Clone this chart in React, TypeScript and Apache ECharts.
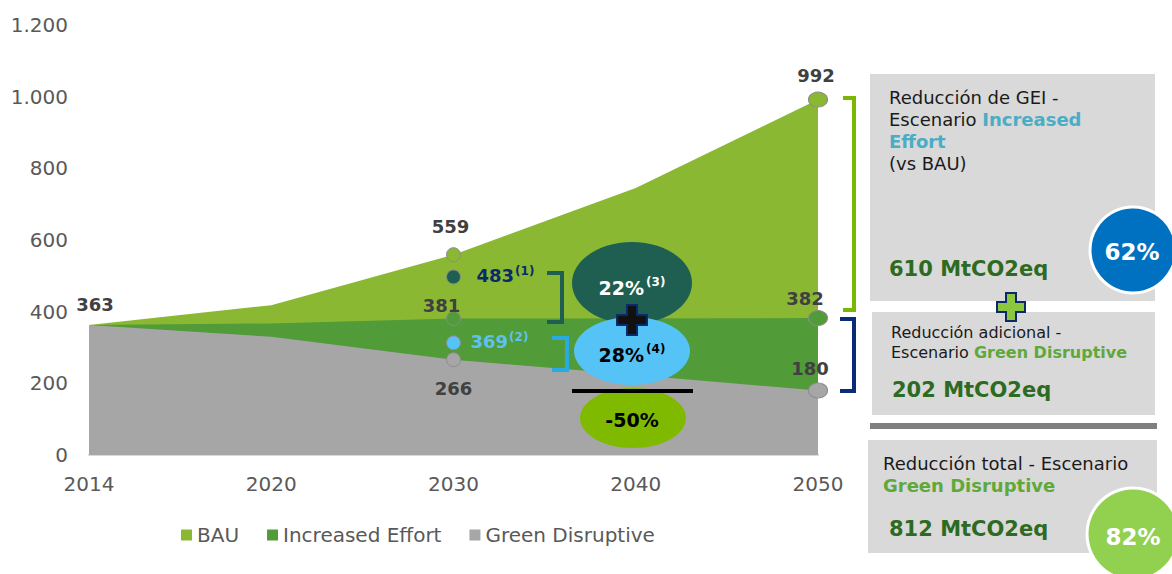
import React, { useEffect, useRef } from 'react';
import * as echarts from 'echarts';

const F = 'DejaVu Sans';

// ---- data ----
const years = ['2014', '2020', '2030', '2040', '2050'];
const bau = [363, 418, 559, 745, 992];
const increasedEffort = [363, 367, 381, 381, 382];
const greenDisruptive = [363, 330, 266, 223, 180];

const startValue = 363;
const labels2030 = [559, 483, 381, 369, 266];
const markerLevels2030 = [559, 497, 381, 313, 266]; // where the markers sit on the axis in the picture
const labels2050 = [992, 382, 180];
const footnotes2030 = ['', '(1)', '', '(2)', ''];
const bubblePercents = ['22%', '28%', '-50%'];
const bubbleNotes = ['(3)', '(4)', ''];
const panelTotals = ['610 MtCO2eq', '202 MtCO2eq', '812 MtCO2eq'];
const panelPercents = ['62%', '82%'];

// ---- styles ----
const BAU_C = '#8ab833';
const IE_C = '#519b39';
const GD_C = '#a6a6a6';
const LBL = '#404040';

const plus = (cx: number, cy: number, h: number, t: number) => [
  [cx - t, cy - h], [cx + t, cy - h], [cx + t, cy - t], [cx + h, cy - t], [cx + h, cy + t], [cx + t, cy + t],
  [cx + t, cy + h], [cx - t, cy + h], [cx - t, cy + t], [cx - h, cy + t], [cx - h, cy - t], [cx - t, cy - t],
];

const numLabel = (text: string, dx: number, dy: number) => ({
  show: true, position: 'inside', formatter: text, offset: [dx, dy],
  fontSize: 18, fontWeight: 'bold', color: LBL, fontFamily: F,
});
const supLabel = (num: number, note: string, color: string, dx: number) => ({
  show: true, position: 'inside', align: 'left', offset: [dx, -1],
  formatter: `{a|${num}}{s|${note}}`,
  rich: {
    a: { fontSize: 18, fontWeight: 'bold', color, fontFamily: F, lineHeight: 22 },
    s: { fontSize: 12, fontWeight: 'bold', color, fontFamily: F, lineHeight: 13, verticalAlign: 'top', padding: [0, 0, 0, 1] },
  },
});
const mk = (color: string) => ({ color, borderColor: '#8c8c8c', borderWidth: 1, opacity: 1 });

const colors2030 = [BAU_C, '#1e5f52', IE_C, '#55c3f5', GD_C];
const offsets2030 = [[-3, -28], [23, 0], [-12, -13], [17, 0], [0, 29]];
const supColors = ['', '#0b2a6b', '', '#5ec1ee', ''];
const colors2050 = [BAU_C, IE_C, GD_C];
const offsets2050 = [[-2, -24], [-13, -20], [-8, -22]];

const pointData: any[] = [
  { value: [years[0], startValue], symbolSize: 0, label: numLabel(String(startValue), 6, -20) },
  ...labels2030.map((v, i) => ({
    value: [years[2], markerLevels2030[i]],
    symbolSize: 14,
    itemStyle: mk(colors2030[i]),
    label: footnotes2030[i]
      ? supLabel(v, footnotes2030[i], supColors[i], offsets2030[i][0])
      : numLabel(String(v), offsets2030[i][0], offsets2030[i][1]),
  })),
  ...labels2050.map((v, i) => ({
    value: [years[4], v],
    symbolSize: [19, 15],
    itemStyle: mk(colors2050[i]),
    label: numLabel(String(v), offsets2050[i][0], offsets2050[i][1]),
  })),
];

const bubbleText = (x: number, y: number, pct: string, note: string, color: string) => ({
  type: 'text', z: 110,
  style: {
    x, y, align: 'center', verticalAlign: 'middle',
    text: note ? `{a|${pct}}{s|${note}}` : `{a|${pct}}`,
    rich: {
      a: { fontSize: 19, fontWeight: 'bold', fill: color, fontFamily: F, lineHeight: 24 },
      s: { fontSize: 12, fontWeight: 'bold', fill: color, fontFamily: F, lineHeight: 13, verticalAlign: 'top', padding: [0, 0, 0, 2] },
    },
  },
});

const totalText = (x: number, y: number, t: string) => ({
  type: 'text', z: 110,
  style: { x, y, text: t, fontSize: 21, fontWeight: 'bold', fill: '#2e6b22', fontFamily: F, verticalAlign: 'middle', align: 'left' },
});

const graphics: any[] = [
  // bubbles in chart
  { type: 'ellipse', z: 100, shape: { cx: 632, cy: 283, rx: 60, ry: 41 }, style: { fill: '#1e5f52' } },
  { type: 'ellipse', z: 101, shape: { cx: 632, cy: 351, rx: 58, ry: 34 }, style: { fill: '#55c3f5' } },
  { type: 'ellipse', z: 100, shape: { cx: 633, cy: 418, rx: 53, ry: 30 }, style: { fill: '#7fba00' } },
  { type: 'line', z: 102, shape: { x1: 572, y1: 391, x2: 693, y2: 391 }, style: { stroke: '#000', lineWidth: 4 } },
  { type: 'polygon', z: 103, shape: { points: plus(632, 320, 15, 5) }, style: { fill: '#111', stroke: '#0b2a6b', lineWidth: 2 } },
  bubbleText(632, 288, bubblePercents[0], bubbleNotes[0], '#ffffff'),
  bubbleText(632, 355, bubblePercents[1], bubbleNotes[1], '#000000'),
  bubbleText(632, 420, bubblePercents[2], bubbleNotes[2], '#000000'),
  // brackets
  { type: 'polyline', z: 100, shape: { points: [[547, 273], [562, 273], [562, 322], [547, 322]] }, style: { stroke: '#1e5f52', lineWidth: 4, fill: null } },
  { type: 'polyline', z: 100, shape: { points: [[552, 338], [567, 338], [567, 370], [552, 370]] }, style: { stroke: '#29abe2', lineWidth: 4, fill: null } },
  { type: 'polyline', z: 100, shape: { points: [[843, 98], [854, 98], [854, 310], [843, 310]] }, style: { stroke: '#7ab800', lineWidth: 4, fill: null } },
  { type: 'polyline', z: 100, shape: { points: [[840, 319], [854, 319], [854, 391], [840, 391]] }, style: { stroke: '#0b2a78', lineWidth: 4, fill: null } },
  // panels
  { type: 'rect', z: 100, shape: { x: 870, y: 74, width: 285, height: 227 }, style: { fill: '#d9d9d9' } },
  { type: 'rect', z: 100, shape: { x: 872, y: 312, width: 283, height: 103 }, style: { fill: '#d9d9d9' } },
  { type: 'rect', z: 100, shape: { x: 870, y: 423, width: 287, height: 6 }, style: { fill: '#808080' } },
  { type: 'rect', z: 100, shape: { x: 868, y: 440, width: 289, height: 113 }, style: { fill: '#d9d9d9' } },
  {
    type: 'text', z: 110,
    style: {
      x: 889, y: 86, verticalAlign: 'top', align: 'left',
      text: 'Reducción de GEI -\nEscenario {b|Increased}\n{b|Effort}\n(vs BAU)',
      fontSize: 18, fontFamily: F, fill: '#1a1a1a', lineHeight: 22,
      rich: { b: { fontSize: 18, fontFamily: F, fontWeight: 'bold', fill: '#4bacc6', lineHeight: 22 } },
    },
  },
  {
    type: 'text', z: 110,
    style: {
      x: 891, y: 322, verticalAlign: 'top', align: 'left',
      text: 'Reducción adicional -\nEscenario {g|Green Disruptive}',
      fontSize: 16, fontFamily: F, fill: '#1a1a1a', lineHeight: 20,
      rich: { g: { fontSize: 16, fontFamily: F, fontWeight: 'bold', fill: '#5fa83c', lineHeight: 20 } },
    },
  },
  {
    type: 'text', z: 110,
    style: {
      x: 883, y: 452, verticalAlign: 'top', align: 'left',
      text: 'Reducción total - Escenario\n{g|Green Disruptive}',
      fontSize: 18, fontFamily: F, fill: '#1a1a1a', lineHeight: 22,
      rich: { g: { fontSize: 18, fontFamily: F, fontWeight: 'bold', fill: '#5fa83c', lineHeight: 22 } },
    },
  },
  totalText(889, 269, panelTotals[0]),
  totalText(892, 390, panelTotals[1]),
  totalText(889, 529, panelTotals[2]),
  { type: 'circle', z: 111, shape: { cx: 1133, cy: 250, r: 43 }, style: { fill: '#0070c0', stroke: '#ffffff', lineWidth: 3 } },
  { type: 'circle', z: 111, shape: { cx: 1133, cy: 534, r: 46 }, style: { fill: '#92d050', stroke: '#ffffff', lineWidth: 3 } },
  {
    type: 'text', z: 112,
    style: { x: 1132, y: 252, text: panelPercents[0], align: 'center', verticalAlign: 'middle', fontSize: 23, fontWeight: 'bold', fill: '#fff', fontFamily: F },
  },
  {
    type: 'text', z: 112,
    style: { x: 1133, y: 537, text: panelPercents[1], align: 'center', verticalAlign: 'middle', fontSize: 23, fontWeight: 'bold', fill: '#fff', fontFamily: F },
  },
  { type: 'polygon', z: 113, shape: { points: plus(1011, 307, 14, 5) }, style: { fill: '#8dc63f', stroke: '#0b2a6b', lineWidth: 2 } },
];

const option: any = {
  animation: false,
  textStyle: { fontFamily: F },
  grid: { left: 89, right: 354, top: 25, bottom: 119, containLabel: false },
  legend: {
    data: ['BAU', 'Increased Effort', 'Green Disruptive'],
    left: 176, top: 520, icon: 'rect', itemWidth: 11, itemHeight: 11, itemGap: 28,
    textStyle: { fontSize: 20, color: '#595959', fontFamily: F },
  },
  xAxis: {
    type: 'category', data: years, boundaryGap: false,
    axisTick: { show: false },
    axisLine: { lineStyle: { color: '#d9d9d9', width: 2 } },
    axisLabel: { fontSize: 20, color: '#595959', margin: 19, fontFamily: F },
  },
  yAxis: {
    type: 'value', min: 0, max: 1200, interval: 200,
    splitLine: { show: false }, axisLine: { show: false }, axisTick: { show: false },
    axisLabel: {
      fontSize: 20, color: '#595959', margin: 21, fontFamily: F,
      formatter: (v: number) => String(v).replace(/\B(?=(\d{3})+(?!\d))/g, '.'),
    },
  },
  series: [
    { name: 'BAU', type: 'line', data: bau, symbol: 'none', lineStyle: { width: 0 }, itemStyle: { color: BAU_C }, areaStyle: { color: BAU_C, opacity: 1 }, z: 1 },
    { name: 'Increased Effort', type: 'line', data: increasedEffort, symbol: 'none', lineStyle: { width: 0 }, itemStyle: { color: IE_C }, areaStyle: { color: IE_C, opacity: 1 }, z: 2 },
    { name: 'Green Disruptive', type: 'line', data: greenDisruptive, symbol: 'none', lineStyle: { width: 0 }, itemStyle: { color: GD_C }, areaStyle: { color: GD_C, opacity: 1 }, z: 3 },
    { name: 'points', type: 'scatter', data: pointData, z: 5, itemStyle: { opacity: 1 } },
  ],
  graphic: { elements: graphics },
};

export default function App() {
  const ref = useRef<HTMLDivElement>(null);
  useEffect(() => {
    document.body.style.margin = '0';
    const chart = echarts.init(ref.current!, null, { renderer: 'svg' });
    chart.setOption(option);
    return () => chart.dispose();
  }, []);
  return <div ref={ref} style={{ width: 1172, height: 574 }} />;
}
